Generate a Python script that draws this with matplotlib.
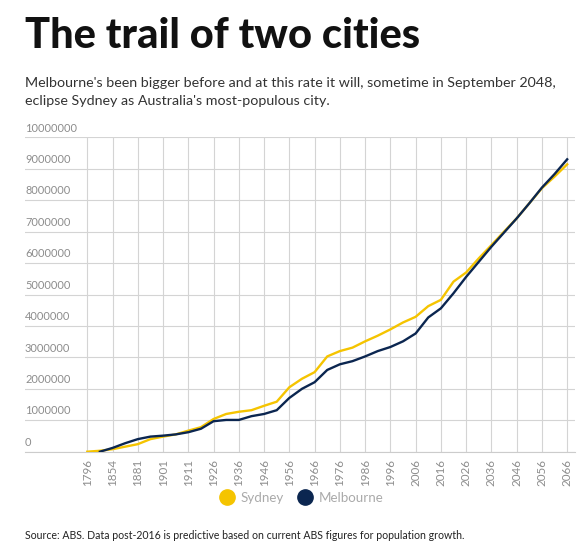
import numpy as np
import matplotlib.pyplot as plt
from matplotlib.lines import Line2D

plt.rcParams['font.family'] = ['Lato', 'DejaVu Sans']

# census points (two per labelled category on the axis)
years = [1796, 1828, 1854, 1871, 1881, 1891, 1901, 1906, 1911, 1921,
         1926, 1933, 1936, 1941, 1946, 1951, 1956, 1961, 1966, 1971,
         1976, 1981, 1986, 1991, 1996, 2001, 2006, 2011, 2016, 2021,
         2026, 2031, 2036, 2041, 2046, 2051, 2056, 2061, 2066]
tick_years = years[::2]

# population in millions
sydney = [0.0, 0.03, 0.08, 0.16, 0.24, 0.40, 0.48, 0.55, 0.67, 0.78,
          1.04, 1.20, 1.27, 1.32, 1.46, 1.59, 2.05, 2.32, 2.53, 3.03,
          3.20, 3.31, 3.51, 3.69, 3.89, 4.11, 4.29, 4.63, 4.83, 5.41,
          5.70, 6.15, 6.57, 7.00, 7.42, 7.90, 8.38, 8.75, 9.14]
melbourne = [np.nan, 0.0, 0.12, 0.27, 0.40, 0.48, 0.51, 0.55, 0.62, 0.73,
             0.97, 1.01, 1.01, 1.13, 1.20, 1.32, 1.71, 2.00, 2.21, 2.60,
             2.78, 2.88, 3.03, 3.20, 3.33, 3.51, 3.76, 4.27, 4.56, 5.04,
             5.56, 6.04, 6.52, 6.97, 7.42, 7.90, 8.40, 8.83, 9.30]

yellow = '#f5c400'
navy = '#0b2650'
grey = '#8c8c8c'
grid = '#d4d4d4'

W, H = 581, 547
fig = plt.figure(figsize=(W / 100, H / 100), dpi=100)
ax = fig.add_axes([25 / W, 1 - 451.7 / H, 550 / W, (451.7 - 137.3) / H])

x = np.arange(len(years)) / 2.0
ax.plot(x, np.array(sydney) * 1e6, color=yellow, lw=1.7, zorder=3)
ax.plot(x, np.array(melbourne) * 1e6, color=navy, lw=1.7, zorder=4)

ax.set_xlim(-2.466, 19.31)
ax.set_ylim(0, 10e6)

yt = np.arange(0, 10e6 + 1, 1e6)
for v in yt:
    ax.axhline(v, color=grid, lw=0.8, zorder=1)
    ax.text(0.0, v + 0.12e6, '%d' % v, transform=ax.get_yaxis_transform(),
            ha='left', va='bottom', fontsize=7.9, color=grey)
for i in range(len(tick_years)):
    ax.axvline(i, color=grid, lw=0.8, zorder=1)

ax.set_yticks([])
ax.set_xticks(range(len(tick_years)))
ax.set_xticklabels([str(y) for y in tick_years], rotation=90, fontsize=8.4,
                   color=grey)
ax.tick_params(axis='x', length=0, pad=5)
for s in ['top', 'right', 'left']:
    ax.spines[s].set_visible(False)
ax.spines['bottom'].set_color('#cccccc')
ax.spines['bottom'].set_linewidth(0.8)

fig.text(25 / W, 1 - 48 / H, 'The trail of two cities', fontsize=30,
         fontweight='black', color='#111111', ha='left', va='baseline')
fig.text(25 / W, 1 - 87 / H,
         "Melbourne's been bigger before and at this rate it will, sometime in September 2048,",
         fontsize=10.3, color='#333333', ha='left', va='baseline')
fig.text(25 / W, 1 - 105 / H, "eclipse Sydney as Australia's most-populous city.",
         fontsize=10.3, color='#333333', ha='left', va='baseline')
fig.text(25 / W, 1 - 539 / H,
         'Source: ABS. Data post-2016 is predictive based on current ABS figures for population growth.',
         fontsize=7.6, color='#222222', ha='left', va='baseline')

handles = [Line2D([], [], ls='', marker='o', ms=11, color=yellow),
           Line2D([], [], ls='', marker='o', ms=11, color=navy)]
leg = fig.legend(handles, ['Sydney', 'Melbourne'], loc='center',
                 bbox_to_anchor=(301 / W, 1 - 498 / H), ncol=2, frameon=False,
                 fontsize=9.6, handletextpad=0.4, columnspacing=0.9,
                 handlelength=1.3)
for t in leg.get_texts():
    t.set_color('#aaaaaa')

fig.savefig('out.png', dpi=100)
